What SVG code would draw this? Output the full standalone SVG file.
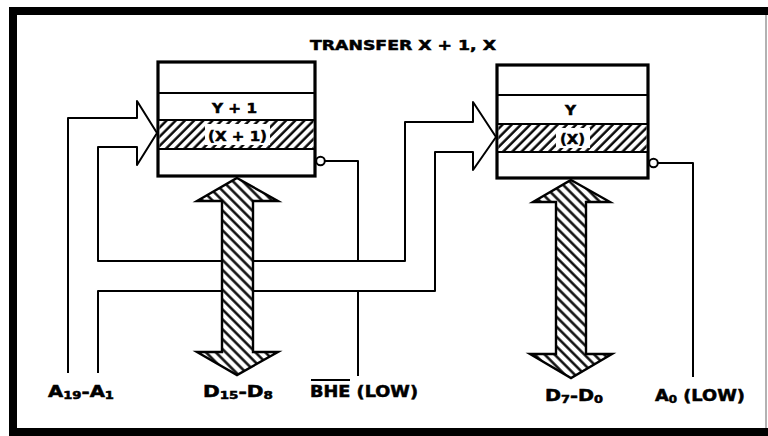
<svg xmlns="http://www.w3.org/2000/svg" width="768" height="436" viewBox="0 0 768 436">
<defs>
<pattern id="hatchF" patternUnits="userSpaceOnUse" width="6.5" height="6.5" patternTransform="rotate(45)">
<rect width="6.5" height="6.5" fill="#fff"/>
<line x1="1.5" y1="0" x2="1.5" y2="6.5" stroke="#000" stroke-width="2.4"/>
</pattern>
<pattern id="hatchB" patternUnits="userSpaceOnUse" width="7" height="7" patternTransform="rotate(-45)">
<rect width="7" height="7" fill="#fff"/>
<line x1="1.5" y1="0" x2="1.5" y2="7" stroke="#000" stroke-width="2.4"/>
</pattern>
<style>
.t{font-family:"DejaVu Sans","Liberation Sans",sans-serif;font-weight:bold;fill:#000;stroke:#000;stroke-width:0.5}
.box{fill:#fff;stroke:#000;stroke-width:3.2}
.div{stroke:#000;stroke-width:2.2}
.wire{fill:none;stroke:#000;stroke-width:2;stroke-linejoin:round}
.bus{fill:url(#hatchB);stroke:#000;stroke-width:2.4;stroke-linejoin:miter}
.band{fill:url(#hatchF)}
.bub{fill:#fff;stroke:#000;stroke-width:2}
</style>
</defs>
<rect x="0" y="0" width="768" height="436" fill="#fff"/>
<g id="frame">
<rect x="13" y="11" width="790" height="421" fill="none" stroke="#000" stroke-width="8"/>
<line x1="766" y1="15" x2="766" y2="428" stroke="#999" stroke-width="1.5"/>
</g>
<text class="t" x="310" y="50" font-size="14" textLength="186" lengthAdjust="spacingAndGlyphs">TRANSFER X + 1, X</text>

<g id="connectors">
<path class="wire" d="M68,373 V118 H137 V101 L157,133 L137,165 V147 H98 V261 H405 V122 H473 V102 L496,137 L473,170 V152 H435 V291 H98 V373"/>
<path class="wire" d="M325,161 H358 V262"/>
<path class="wire" d="M358,291 V376"/>
<path class="wire" d="M658,163 H693 V377"/>
</g>

<g id="memLow">
<rect class="box" x="158" y="62" width="157" height="114"/>
<rect class="band" x="159.6" y="120" width="153.8" height="29"/>
<line class="div" x1="158" y1="93" x2="315" y2="93"/>
<line class="div" x1="158" y1="120" x2="315" y2="120"/>
<line class="div" x1="158" y1="149" x2="315" y2="149"/>
<text class="t" x="212" y="113" font-size="13.5" textLength="45" lengthAdjust="spacingAndGlyphs">Y + 1</text>
<rect x="205" y="124" width="65" height="21" fill="#fff"/>
<text class="t" x="208" y="141" font-size="14" textLength="59" lengthAdjust="spacingAndGlyphs">(X + 1)</text>
<circle class="bub" cx="320.5" cy="161" r="4.3"/>
</g>

<g id="memHigh">
<rect class="box" x="497" y="65" width="151" height="113"/>
<rect class="band" x="498.6" y="124" width="147.8" height="28"/>
<line class="div" x1="497" y1="95" x2="648" y2="95"/>
<line class="div" x1="497" y1="124" x2="648" y2="124"/>
<line class="div" x1="497" y1="152" x2="648" y2="152"/>
<text class="t" x="565" y="115" font-size="13.5" textLength="11" lengthAdjust="spacingAndGlyphs">Y</text>
<rect x="556" y="128" width="34" height="20" fill="#fff"/>
<text class="t" x="560" y="144" font-size="14" textLength="25" lengthAdjust="spacingAndGlyphs">(X)</text>
<circle class="bub" cx="653.5" cy="163" r="4.3"/>
</g>

<g id="busLow">
<path class="bus" d="M237,178 L278,201 H253 V352 H278 L237,375 L197,352 H222 V201 H197 Z"/>
</g>
<g id="busHigh">
<path class="bus" d="M571,180 L610,202 H586 V354 H612 L571,378 L530,354 H556 V202 H533 Z"/>
</g>

<g id="labels">
<text class="t" x="48" y="397" font-size="15" textLength="66" lengthAdjust="spacingAndGlyphs">A<tspan font-size="10" dy="2">19</tspan><tspan dy="-2">-A</tspan><tspan font-size="10" dy="2">1</tspan></text>
<text class="t" x="203" y="397" font-size="15" textLength="70" lengthAdjust="spacingAndGlyphs">D<tspan font-size="10" dy="2">15</tspan><tspan dy="-2">-D</tspan><tspan font-size="10" dy="2">8</tspan></text>
<text class="t" x="310" y="397" font-size="15" textLength="108" lengthAdjust="spacingAndGlyphs">BHE (LOW)</text>
<line x1="311" y1="380" x2="350" y2="380" stroke="#000" stroke-width="1.8"/>
<text class="t" x="545" y="401" font-size="15" textLength="58" lengthAdjust="spacingAndGlyphs">D<tspan font-size="10" dy="2">7</tspan><tspan dy="-2">-D</tspan><tspan font-size="10" dy="2">0</tspan></text>
<text class="t" x="655" y="401" font-size="15" textLength="90" lengthAdjust="spacingAndGlyphs">A<tspan font-size="10" dy="2">0</tspan><tspan dy="-2"> (LOW)</tspan></text>
</g>
</svg>
